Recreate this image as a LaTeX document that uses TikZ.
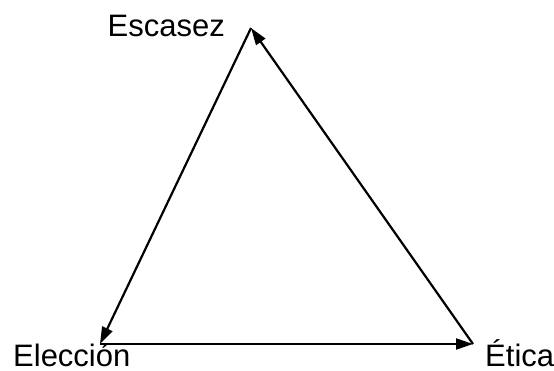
\documentclass[tikz,border=0pt]{standalone}
\usepackage{fontspec}
\setmainfont{Liberation Sans}
\usetikzlibrary{arrows.meta, positioning}

\begin{document}
\begin{tikzpicture}[x=1pt, y=-1pt, font=\fontsize{31}{36}\selectfont,
    arr/.style={-{Triangle[length=17pt, width=11pt]}, line width=2.2pt}]
  \useasboundingbox (0,0) rectangle (554,371);
  \coordinate (top) at (251,28);
  \coordinate (left) at (100,344);
  \coordinate (right) at (473,344);

  \node[anchor=base east, inner sep=0pt] (escasez) at (225,37) {Escasez};
  \node[anchor=base west, inner sep=0pt] (eleccion) at (13,366) {Elección};
  \node[anchor=base west, inner sep=0pt] (etica) at (485,366) {Ética};

  \draw[arr] (top) -- (left);
  \draw[arr] (left) -- (right);
  \draw[arr] (right) -- (top);
\end{tikzpicture}
\end{document}
